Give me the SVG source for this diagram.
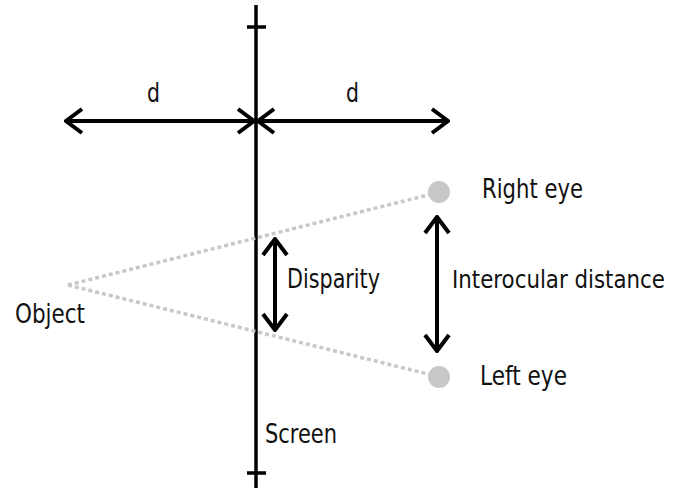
<svg xmlns="http://www.w3.org/2000/svg" width="685" height="492" viewBox="0 0 685 492">
<defs>
<marker id="chev" viewBox="0 0 20 28" refX="18" refY="14" markerWidth="20" markerHeight="28" markerUnits="userSpaceOnUse" orient="auto-start-reverse">
<path d="M2,2 L18,14 L2,26" fill="none" stroke="#000" stroke-width="4" stroke-linejoin="miter"/>
</marker>
<style>
.t{font-family:"DejaVu Sans Condensed","DejaVu Sans",sans-serif;font-stretch:condensed;font-size:27px;fill:#111}
.arr{stroke:#000;stroke-width:4;fill:none;marker-start:url(#chev);marker-end:url(#chev)}
.dot{stroke:#c8c8c8;stroke-width:3.5;stroke-dasharray:4 3;fill:none}
.eye{fill:#c8c8c8}
</style>
</defs>
<rect width="685" height="492" fill="#fff"/>
<g id="screen">
<line x1="256" y1="5" x2="256" y2="488" stroke="#000" stroke-width="3.5"/>
<line x1="247" y1="27" x2="266" y2="27" stroke="#000" stroke-width="3.5"/>
<line x1="247" y1="473" x2="266" y2="473" stroke="#000" stroke-width="3.5"/>
<text class="t" x="265" y="443" textLength="72" lengthAdjust="spacingAndGlyphs">Screen</text>
</g>
<g id="connectors">
<line class="dot" x1="68" y1="285" x2="432" y2="194"/>
<line class="dot" x1="68" y1="285" x2="432" y2="375"/>
<line class="arr" x1="66" y1="121" x2="254" y2="121"/>
<line class="arr" x1="258" y1="121" x2="448" y2="121"/>
<line class="arr" x1="275" y1="239" x2="275" y2="330"/>
<line class="arr" x1="437" y1="217" x2="437" y2="351"/>
</g>
<g id="labels-d">
<text class="t" x="147" y="102" textLength="13" lengthAdjust="spacingAndGlyphs">d</text>
<text class="t" x="346" y="102" textLength="13" lengthAdjust="spacingAndGlyphs">d</text>
</g>
<g id="object"><text class="t" x="15" y="323" textLength="70" lengthAdjust="spacingAndGlyphs">Object</text></g>
<g id="right-eye"><circle class="eye" cx="439" cy="192" r="11"/><text class="t" x="482" y="198" textLength="101" lengthAdjust="spacingAndGlyphs">Right eye</text></g>
<g id="left-eye"><circle class="eye" cx="439" cy="377" r="11"/><text class="t" x="480" y="385" textLength="87" lengthAdjust="spacingAndGlyphs">Left eye</text></g>
<g id="disparity"><text class="t" x="287" y="288" textLength="93" lengthAdjust="spacingAndGlyphs">Disparity</text></g>
<g id="interocular"><text class="t" x="452" y="288" style="font-size:25px" textLength="213" lengthAdjust="spacingAndGlyphs">Interocular distance</text></g>
</svg>
